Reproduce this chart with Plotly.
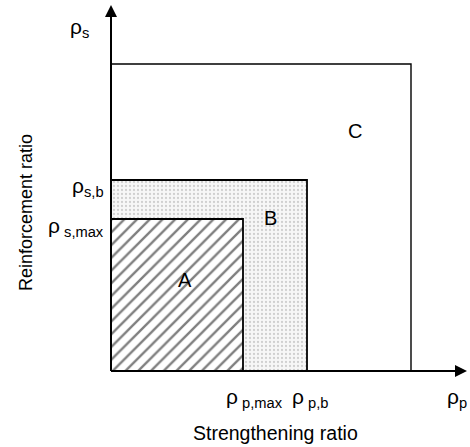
import plotly.graph_objects as go

# Data (arbitrary units)
regions = ["C", "B", "A"]
rho_p_limits = [3.00, 1.96, 1.32]   # strengthening ratio limits
rho_s_limits = [3.07, 1.91, 1.52]   # reinforcement ratio limits
label_pos_x = [2.44, 1.59, 0.74]
label_pos_y = [2.40, 1.53, 0.91]

x_tick_vals = [1.32, 1.96, 3.35]
x_tick_labels = ["ρ<sub> p,max</sub>", "ρ<sub> p,b</sub>", "ρ<sub>p</sub>"]
y_tick_vals = [1.52, 1.91, 3.44]
y_tick_labels = ["ρ<sub> s,max</sub>", "ρ<sub>s,b</sub>", "ρ<sub>s</sub>"]

x_axis_title = "Strengthening ratio"
y_axis_title = "Reinforcement ratio"

FONT = "Liberation Sans, Arial, sans-serif"

fig = go.Figure()

fills = {
    "C": dict(fillcolor="white"),
    "B": dict(fillcolor="white", fillpattern=dict(shape=".", size=4, solidity=0.25,
                                                 fgcolor="#a8a8a8", bgcolor="#f7f7f7")),
    "A": dict(fillcolor="white", fillpattern=dict(shape="/", size=9, solidity=0.26,
                                                 fgcolor="black", bgcolor="white")),
}

for r, px, ps in zip(regions, rho_p_limits, rho_s_limits):
    fig.add_trace(go.Scatter(
        x=[0, 0, px, px, 0], y=[0, ps, ps, 0, 0],
        mode="lines", fill="toself",
        line=dict(color="black", width=1.8 if r != "C" else 1.4),
        hoverinfo="skip", showlegend=False, **fills[r]))

annotations = []
for r, lx, ly in zip(regions, label_pos_x, label_pos_y):
    annotations.append(dict(x=lx, y=ly, text=r, showarrow=False,
                            font=dict(family=FONT, size=20, color="black")))

# axis arrows
annotations.append(dict(x=0, y=3.66, ax=0, ay=0, axref="x", ayref="y", xref="x", yref="y",
                        text="", showarrow=True, arrowhead=2, arrowsize=1.2, arrowwidth=2,
                        arrowcolor="black"))
annotations.append(dict(x=3.56, y=0, ax=0, ay=0, axref="x", ayref="y", xref="x", yref="y",
                        text="", showarrow=True, arrowhead=2, arrowsize=1.2, arrowwidth=2,
                        arrowcolor="black"))

# tick labels
x_label_x = [1.43, 1.99, 3.46]
for xv, t, lx in zip(x_tick_vals, x_tick_labels, x_label_x):
    annotations.append(dict(x=lx, y=-0.27, text=t, showarrow=False, xanchor="center",
                            font=dict(family=FONT, size=21, color="black")))
y_label_y = [1.44, 1.84, 3.43]
y_label_x = [-0.05, -0.05, -0.20]
for yv, t, ly, lx in zip(y_tick_vals, y_tick_labels, y_label_y, y_label_x):
    annotations.append(dict(x=lx, y=ly, text=t, showarrow=False, xanchor="right",
                            font=dict(family=FONT, size=21, color="black")))

annotations.append(dict(x=1.64, y=-0.62, text=x_axis_title, showarrow=False,
                        font=dict(family=FONT, size=19.5, color="black")))
annotations.append(dict(x=-0.85, y=1.58, text=y_axis_title, showarrow=False, textangle=-90,
                        font=dict(family=FONT, size=18, color="black")))

fig.update_layout(
    width=470, height=447, margin=dict(l=0, r=0, t=0, b=0),
    paper_bgcolor="white", plot_bgcolor="white",
    xaxis=dict(visible=False, range=[-1.11, 3.59], fixedrange=True),
    yaxis=dict(visible=False, range=[-0.76, 3.71], fixedrange=True),
    annotations=annotations,
)

fig.write_html("out.html", config={"displayModeBar": False},
               post_script="document.body.style.margin='0';")
